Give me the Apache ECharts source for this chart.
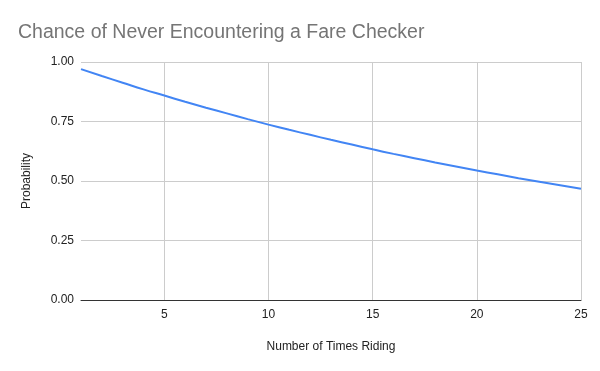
<!DOCTYPE html>
<html><head><meta charset="utf-8">
<script src="https://cdn.jsdelivr.net/npm/echarts@6/dist/echarts.min.js"></script>
<style>html,body{margin:0;padding:0;background:#fff}#c{width:600px;height:371px}</style>
</head><body><div id="c"></div>
<script>
const rides = [1,2,3,4,5,6,7,8,9,10,11,12,13,14,15,16,17,18,19,20,21,22,23,24,25];
const probability = [0.970,0.941,0.913,0.885,0.859,0.833,0.808,0.784,0.760,0.737,0.715,0.694,0.673,0.653,0.633,0.614,0.596,0.578,0.561,0.544,0.528,0.512,0.497,0.482,0.467];
const xTicks = [5,10,15,20,25];
const yTicks = [0,0.25,0.5,0.75,1];
const titleText = 'Chance of Never Encountering a Fare Checker';
const xName = 'Number of Times Riding';
const yName = 'Probability';

const chart = echarts.init(document.getElementById('c'), null, {renderer:'canvas'});
const font = 'Arial, "Liberation Sans", sans-serif';
chart.setOption({
  animation:false,
  backgroundColor:'#fff',
  title:{text:titleText,left:13,top:18,textStyle:{color:'#757575',fontSize:19.5,fontWeight:'normal',fontFamily:font}},
  grid:{left:81,right:19,top:62,bottom:71,containLabel:false},
  xAxis:{type:'value',min:1,max:25,
    name:xName,nameLocation:'middle',nameGap:41,
    nameTextStyle:{color:'#222',fontSize:12,fontFamily:font},
    axisLine:{show:true,lineStyle:{color:'#333',width:1}},
    axisTick:{show:false},
    splitLine:{show:false},
    axisLabel:{customValues:xTicks,color:'#222',fontSize:12,fontFamily:font,margin:9}},
  yAxis:{type:'value',min:0,max:1,interval:0.25,
    name:yName,nameLocation:'middle',nameGap:48,nameRotate:90,
    nameTextStyle:{color:'#222',fontSize:12,fontFamily:font},
    axisLine:{show:false},axisTick:{show:false},
    splitLine:{lineStyle:{color:'#cccccc',width:1}},
    axisLabel:{formatter:v=>v.toFixed(2),color:'#222',fontSize:12,fontFamily:font,margin:7}},
  series:[{type:'line',data:rides.map((r,i)=>[r,probability[i]]),smooth:true,showSymbol:false,
    lineStyle:{color:'#4285F4',width:2},itemStyle:{color:'#4285F4'},z:5,
    markLine:{silent:true,symbol:'none',label:{show:false},
      lineStyle:{color:'#cccccc',width:1,type:'solid'},
      data:xTicks.map(v=>({xAxis:v})),z:1}}]
});
</script></body></html>
